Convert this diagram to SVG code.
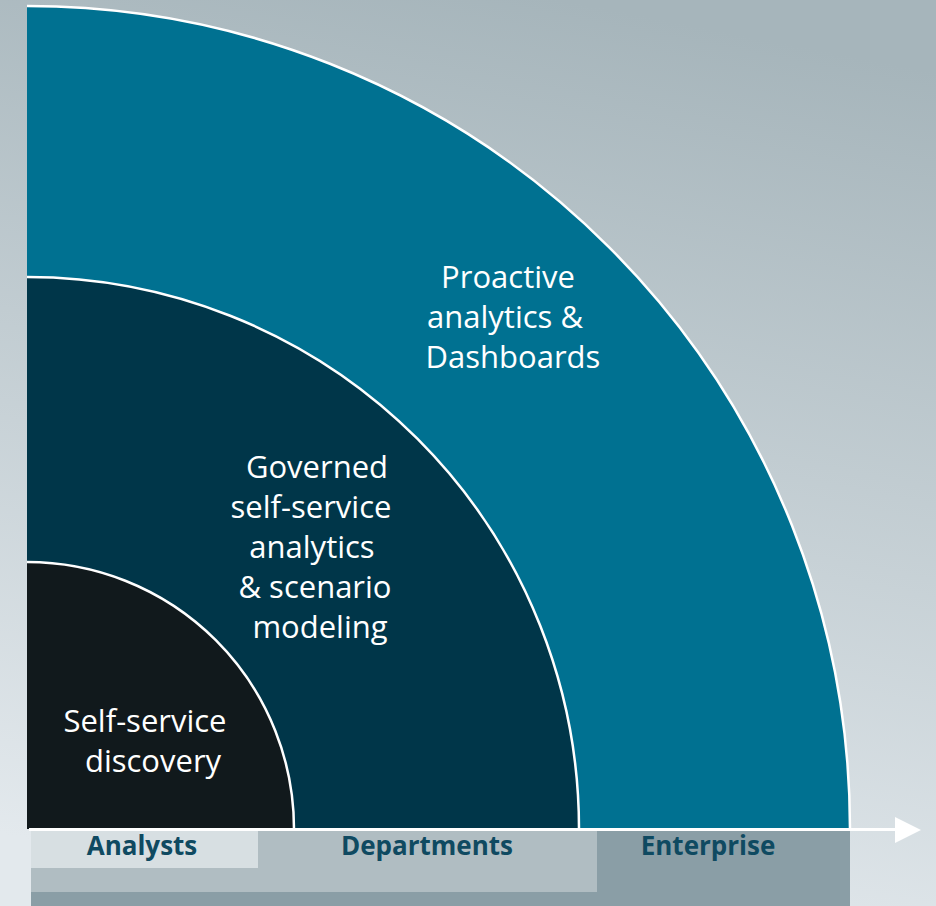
<svg xmlns="http://www.w3.org/2000/svg" width="936" height="906" viewBox="0 0 936 906">
<defs>
<linearGradient id="bg" x1="0.6" y1="0" x2="0.4" y2="1">
<stop offset="0" stop-color="#a6b5bb"/>
<stop offset="1" stop-color="#e3e9ed"/>
</linearGradient>
<style>
.lbl{font-family:"Open Sans","Noto Sans",sans-serif;font-size:31px;fill:#ffffff;text-anchor:middle}
.axis{font-family:"Open Sans","Noto Sans",sans-serif;font-size:26px;font-weight:bold;fill:#0f4a61;text-anchor:middle}
.arc{fill:none;stroke:#ffffff;stroke-width:2.5}
</style>
</defs>
<rect width="936" height="906" fill="url(#bg)"/>
<g id="enterprise-ring">
<path d="M27,829 L27,6 A823,823 0 0 1 850,829 Z" fill="#007191"/>
<path class="arc" d="M27,6 A823,823 0 0 1 850,829"/>
<text class="lbl"><tspan x="508" y="288">Proactive</tspan><tspan x="505" y="328">analytics &amp;</tspan><tspan x="513" y="368">Dashboards</tspan></text>
</g>
<g id="departments-ring">
<path d="M27,829 L27,277 A552,552 0 0 1 579,829 Z" fill="#003649"/>
<path class="arc" d="M27,277 A552,552 0 0 1 579,829"/>
<text class="lbl"><tspan x="317" y="478">Governed</tspan><tspan x="311" y="518">self-service</tspan><tspan x="312" y="558">analytics</tspan><tspan x="315" y="598">&amp; scenario</tspan><tspan x="320" y="638">modeling</tspan></text>
</g>
<g id="analysts-ring">
<path d="M27,829 L27,562 A267,267 0 0 1 294,829 Z" fill="#11191c"/>
<path class="arc" d="M27,562 A267,267 0 0 1 294,829"/>
<text class="lbl"><tspan x="145" y="732">Self-service</tspan><tspan x="153" y="772">discovery</tspan></text>
</g>
<g id="axis-bars">
<rect x="31" y="830" width="819" height="76" fill="#8a9ea6"/>
<rect x="31" y="830" width="566" height="62" fill="#b0bdc2"/>
<rect x="31" y="830" width="227" height="38" fill="#d7dfe2"/>
<text class="axis" x="142" y="855">Analysts</text>
<text class="axis" x="427" y="855">Departments</text>
<text class="axis" x="708" y="855">Enterprise</text>
</g>
<g id="connectors">
<line x1="29" y1="829.5" x2="897" y2="829.5" stroke="#ffffff" stroke-width="3"/>
<polygon points="895,817 921,830 895,843" fill="#ffffff"/>
</g>
</svg>
